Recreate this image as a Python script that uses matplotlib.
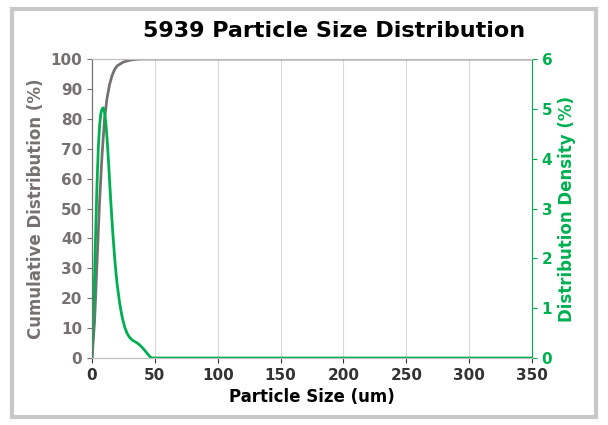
import matplotlib.pyplot as plt
from matplotlib.patches import FancyBboxPatch

plt.rcParams['font.family'] = 'Liberation Sans Narrow'

# particle size (um)
size_cum = [0, 2, 4, 6, 8, 10, 12, 14, 16, 18, 20, 25, 30, 35, 40, 45, 350]
cumulative = [0, 12, 32, 52, 68, 80, 87, 91.5, 94.5, 96.5, 97.7, 99, 99.6, 99.9, 100, 100, 100]

size_den = [0, 1, 2, 3, 4, 5, 6, 7, 8, 9, 10, 11, 12, 13, 14, 15, 16, 17, 18, 19, 20, 22, 24,
            26, 28, 30, 32, 34, 36, 38, 40, 42, 44, 46, 47, 48, 350]
density = [0, 0.7, 1.6, 2.6, 3.5, 4.2, 4.65, 4.9, 5.0, 5.02, 4.93, 4.72, 4.4, 4.0, 3.55, 3.12,
           2.72, 2.35, 2.02, 1.73, 1.48, 1.1, 0.82, 0.62, 0.49, 0.41, 0.36, 0.33, 0.3, 0.26,
           0.21, 0.15, 0.09, 0.03, 0.01, 0, 0]

grey = '#767171'
green = '#00b050'

fig = plt.figure(figsize=(6.08, 4.25), dpi=100)
fig.patches.append(FancyBboxPatch((0.02, 0.02), 0.96, 0.96, boxstyle='square,pad=0',
                                  transform=fig.transFigure, fill=False,
                                  edgecolor='#c8c8c8', linewidth=3))
ax = fig.add_axes([92 / 608, 1 - 358 / 425, 440 / 608, 299 / 425])
ax.plot(size_cum, cumulative, color=grey, linewidth=2)
ax.set_xlim(0, 350)
ax.set_ylim(0, 100)
ax.set_xticks(range(0, 351, 50))
ax.set_yticks(range(0, 101, 10))
ax.grid(axis='x', color='#d9d9d9', linewidth=0.8)
ax.set_axisbelow(True)
ax.set_xlabel('Particle Size (um)', fontsize=12, fontweight='bold')
ax.set_ylabel('Cumulative Distribution (%)', fontsize=12, fontweight='bold', color=grey)
ax.tick_params(axis='y', colors=grey, labelsize=11)
ax.tick_params(axis='x', labelsize=11, colors='#333333')
for lab in ax.get_xticklabels() + ax.get_yticklabels():
    lab.set_fontweight('bold')

ax2 = ax.twinx()
ax2.plot(size_den, density, color=green, linewidth=2)
ax2.set_ylim(0, 6)
ax2.set_yticks(range(0, 7))
ax2.set_ylabel('Distribution Density (%)', fontsize=12, fontweight='bold', color=green)
ax2.tick_params(axis='y', colors=green, labelsize=11)
for lab in ax2.get_yticklabels():
    lab.set_fontweight('bold')

for a in (ax, ax2):
    for s in a.spines.values():
        s.set_color('#bfbfbf')
ax.spines['left'].set_color(grey)
ax2.spines['left'].set_color(grey)
ax2.spines['right'].set_color(green)

fig.suptitle('5939 Particle Size Distribution', x=0.55, y=0.95, fontsize=16, fontweight='bold')
fig.savefig('out.png', dpi=100)
